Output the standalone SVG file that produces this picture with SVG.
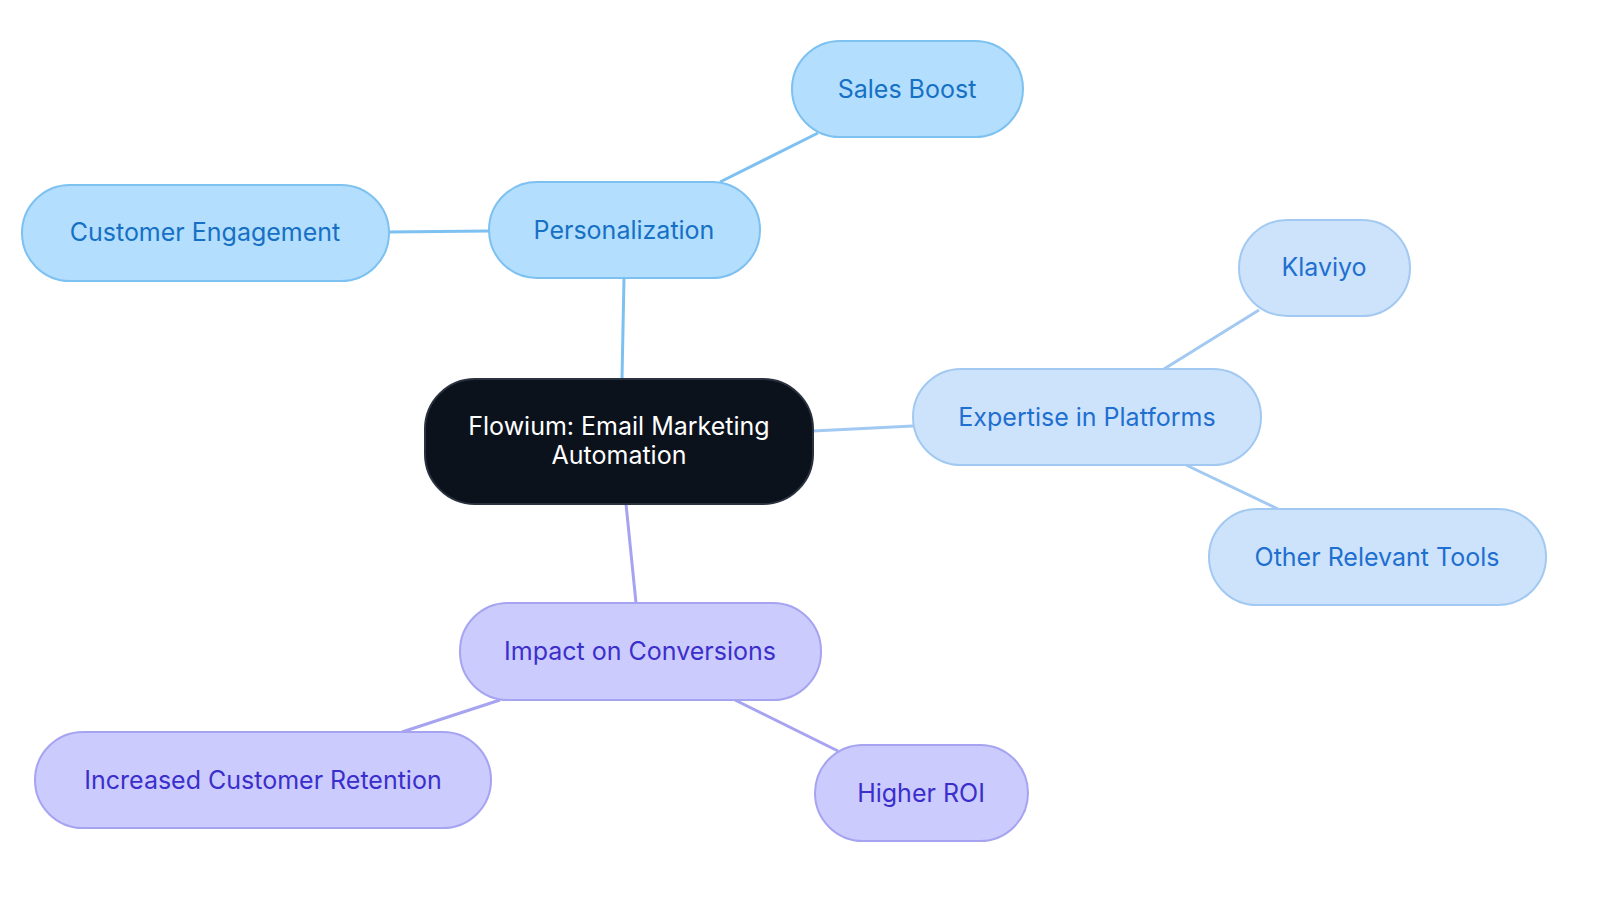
<svg xmlns="http://www.w3.org/2000/svg" width="1600" height="903" viewBox="0 0 1600 903">
<style>
text{font-family:Inter,"Noto Sans",sans-serif;font-size:25px;text-anchor:middle;dominant-baseline:central}
.a rect{fill:#b3defd;stroke:#7dc1f1;stroke-width:2}
.a text{fill:#1670c4}
.b rect{fill:#cde3fb;stroke:#a2c9f1;stroke-width:2}
.b text{fill:#1e6fd0}
.c rect{fill:#cccbfd;stroke:#a6a4f1;stroke-width:2}
.c text{fill:#3b2fcc}
.e{fill:none;stroke-width:3}
</style>
<rect width="1600" height="903" fill="#fff"/>
<g id="connectors">
<path class="e" stroke="#7dc1f1" d="M622 379L624 278M720 182L818 133M489 231L389 232"/>
<path class="e" stroke="#a2c9f1" d="M813 431L913 426M1164 369L1259 310M1186 465L1278 509"/>
<path class="e" stroke="#a6a4f1" d="M626 504L636 603M500 700L402 732M735 700L838 751"/>
</g>
<g id="center"><rect x="425" y="379" width="388" height="125" rx="50" fill="#0b121c" stroke="#2a3240" stroke-width="2"/><text x="619" y="426" fill="#fff">Flowium: Email Marketing</text><text x="619" y="455" fill="#fff">Automation</text></g>
<g id="personalization" class="a"><rect x="489" y="182" width="271" height="96" rx="48"/><text x="624" y="230">Personalization</text></g>
<g id="sales" class="a"><rect x="792" y="41" width="231" height="96" rx="48"/><text x="907" y="89">Sales Boost</text></g>
<g id="engagement" class="a"><rect x="22" y="185" width="367" height="96" rx="48"/><text x="205" y="232">Customer Engagement</text></g>
<g id="expertise" class="b"><rect x="913" y="369" width="348" height="96" rx="48"/><text x="1087" y="417">Expertise in Platforms</text></g>
<g id="klaviyo" class="b"><rect x="1239" y="220" width="171" height="96" rx="48"/><text x="1324" y="267">Klaviyo</text></g>
<g id="tools" class="b"><rect x="1209" y="509" width="337" height="96" rx="48"/><text x="1377" y="557">Other Relevant Tools</text></g>
<g id="impact" class="c"><rect x="460" y="603" width="361" height="97" rx="48"/><text x="640" y="651">Impact on Conversions</text></g>
<g id="retention" class="c"><rect x="35" y="732" width="456" height="96" rx="48"/><text x="263" y="780">Increased Customer Retention</text></g>
<g id="roi" class="c"><rect x="815" y="745" width="213" height="96" rx="48"/><text x="921" y="793">Higher ROI</text></g>
</svg>
